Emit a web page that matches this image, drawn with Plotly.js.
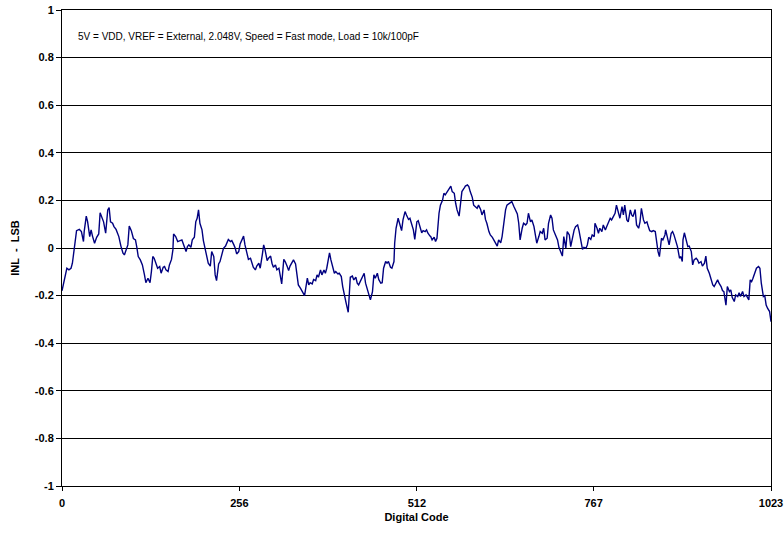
<!DOCTYPE html>
<html>
<head>
<meta charset="utf-8">
<script src="https://cdn.plot.ly/plotly-3.0.1.min.js"></script>
<style>html,body{margin:0;padding:0;background:#fff;}#chart{width:784px;height:539px;}</style>
</head>
<body>
<div id="chart"></div>
<script>
const codes = [0,4,7,10,13,15,18,21,25,28,31,32,35,37,40,42,44,47,50,53,55,57,60,63,66,68,70,73,75,78,80,82,85,88,90,93,95,97,100,103,106,108,110,113,116,119,121,124,127,129,131,133,136,138,141,143,146,148,150,153,155,158,160,161,164,167,
173,175,179,181,183,186,188,191,193,195,197,199,202,204,207,209,211,214,216,219,221,223,226,228,231,233,236,238,240,243,245,248,250,252,255,257,260,262,264,267,269,272,274,276,279,281,284,286,289,291,293,296,298,301,303,305,308,310,313,315,317,320,322,325,327,329,332,334,337,339,341,344,348,350,
354,356,358,361,363,366,368,370,373,375,378,380,382,386,388,391,393,395,398,400,403,405,407,410,413,416,419,421,424,426,428,431,433,436,438,440,443,445,448,450,452,455,457,460,462,464,467,469,471,474,476,479,480,482,485,487,490,492,495,497,500,502,505,507,509,512,514,516,519,521,524,526,528,531,
532,534,537,539,541,544,546,549,551,553,556,558,561,563,566,568,570,573,575,577,580,582,585,587,589,592,594,597,599,601,604,606,609,611,613,616,618,621,623,625,628,630,633,635,637,640,642,645,647,649,652,654,657,659,661,664,666,669,671,673,676,678,681,683,685,688,690,693,695,697,700,702,705,707,709,
712,715,717,720,722,724,727,729,732,734,736,739,741,744,746,748,751,753,756,758,760,763,765,768,769,772,774,776,779,781,784,786,788,791,793,796,798,800,803,805,808,810,812,815,817,820,822,824,827,829,832,834,836,839,841,844,846,848,851,853,856,858,860,862,865,867,870,
871,874,876,879,881,883,886,888,891,893,895,896,898,900,903,905,908,910,912,915,917,919,922,924,927,929,931,934,936,939,941,943,946,948,951,953,955,958,960,963,965,967,970,972,975,977,979,982,984,987,989,991,993,995,997,1000,1002,1005,1007,1009,1012,1014,1016,1018,1021,1023];
const inl = [-0.18,-0.12,-0.085,-0.092,-0.085,-0.064,0,0.073,0.078,0.069,0.027,0.069,0.134,0.11,0.048,0.076,0.05,0.02,0.045,0.059,0.148,0.13,0.11,0.062,0.16,0.17,0.11,0.104,0.09,0.078,0.059,0.048,0.008,-0.022,-0.029,-0.008,0.013,0.092,0.073,0.04,0.034,0.003,-0.036,-0.05,-0.071,-0.113,-0.146,-0.127,-0.146,-0.099,-0.036,-0.043,-0.064,-0.085,-0.078,-0.106,-0.081,-0.078,-0.092,-0.099,-0.071,-0.048,-0.008,0.059,0.048,0.027,
0.034,0.02,-0.015,0.006,0.013,0.003,0.034,0.045,0.11,0.125,0.16,0.104,0.076,0.031,-0.008,-0.036,-0.064,-0.076,-0.015,-0.036,-0.113,-0.137,-0.067,-0.057,-0.015,-0.001,0.008,0.027,0.036,0.027,0.031,0.013,-0.001,-0.025,-0.015,0.017,0.036,0.05,0.013,-0.02,-0.048,-0.043,-0.064,-0.081,-0.092,-0.076,-0.064,-0.085,-0.029,0.013,-0.008,-0.053,-0.043,-0.034,-0.064,-0.081,-0.071,-0.092,-0.085,-0.113,-0.151,-0.048,-0.057,-0.078,-0.095,-0.076,-0.057,-0.05,-0.067,-0.113,-0.155,-0.169,-0.19,-0.2,
-0.127,-0.155,-0.146,-0.151,-0.132,-0.137,-0.113,-0.123,-0.092,-0.113,-0.092,-0.106,-0.085,-0.02,-0.05,-0.092,-0.106,-0.099,-0.109,-0.106,-0.12,-0.162,-0.197,-0.232,-0.27,-0.123,-0.118,-0.134,-0.123,-0.148,-0.155,-0.134,-0.12,-0.106,-0.148,-0.169,-0.19,-0.218,-0.183,-0.113,-0.127,-0.106,-0.132,-0.148,-0.146,-0.085,-0.057,-0.064,-0.057,-0.081,-0.085,-0.057,0.02,0.083,0.125,0.104,0.073,0.118,0.153,0.139,0.12,0.125,0.097,0.076,0.036,0.11,0.115,0.09,0.064,0.073,0.069,0.076,0.062,0.05,
0.048,0.034,0.045,0.027,0.041,0.146,0.18,0.2,0.23,0.223,0.237,0.25,0.26,0.237,0.23,0.188,0.16,0.134,0.188,0.237,0.25,0.26,0.265,0.258,0.237,0.213,0.18,0.174,0.167,0.18,0.162,0.139,0.16,0.12,0.104,0.069,0.055,0.045,0.036,0.027,0.008,0.034,0.022,0.048,0.104,0.16,0.18,0.188,0.19,0.195,0.174,0.162,0.143,0.104,0.034,0.083,0.104,0.097,0.104,0.146,0.11,0.118,0.09,0.055,0.02,0.048,0.069,0.062,0.083,0.034,0.041,0.104,0.139,0.125,0.076,
0.055,0.034,0.003,-0.015,-0.034,0.048,-0.001,0.069,0.055,0.006,0.041,0.076,0.09,0.097,0.073,0.034,-0.006,0.003,-0.001,0.013,0.045,0.036,0.055,0.048,0.104,0.083,0.062,0.083,0.069,0.097,0.076,0.09,0.106,0.125,0.118,0.132,0.146,0.18,0.139,0.125,0.174,0.139,0.18,0.118,0.11,0.16,0.139,0.132,0.162,0.097,0.083,0.11,0.167,0.118,0.104,0.11,0.09,0.073,0.069,0.073,0.069,0.02,-0.015,-0.036,0.041,0.034,0.055,
0.076,0.034,0.013,0.062,0.069,0.055,0.027,0.006,-0.043,-0.036,-0.057,0.034,0.064,0.041,0.006,0.008,-0.015,-0.071,-0.05,-0.043,-0.05,-0.064,-0.057,-0.076,-0.064,-0.034,-0.085,-0.106,-0.127,-0.155,-0.162,-0.148,-0.134,-0.148,-0.162,-0.179,-0.183,-0.24,-0.162,-0.183,-0.176,-0.207,-0.225,-0.197,-0.204,-0.188,-0.204,-0.183,-0.204,-0.197,-0.211,-0.218,-0.134,-0.141,-0.127,-0.099,-0.085,-0.078,-0.085,-0.148,-0.204,-0.2,-0.24,-0.253,-0.267,-0.31];
const xTickVals = [0,256,512,767,1023];
const xTickText = ['0','256','512','767','1023'];
const yTickVals = [-1,-0.8,-0.6,-0.4,-0.2,0,0.2,0.4,0.6,0.8,1];
const yTickText = ['-1','-0.8','-0.6','-0.4','-0.2','0','0.2','0.4','0.6','0.8','1'];
const noteText = '5V = VDD, VREF = External, 2.048V, Speed = Fast mode, Load = 10k/100pF';

const tickFont = {family:'Liberation Sans, Arial, sans-serif', size:11, color:'#000', weight:'bold'};
Plotly.newPlot('chart', [{
  x: codes, y: inl, type:'scatter', mode:'lines',
  line:{color:'#000080', width:1.4}, hoverinfo:'skip'
}], {
  width:784, height:539,
  margin:{l:62, r:13, t:10, b:53},
  paper_bgcolor:'#fff', plot_bgcolor:'#fff',
  showlegend:false,
  font:{family:'Liberation Sans, Arial, sans-serif', color:'#000'},
  xaxis:{
    range:[0,1023], tickvals:xTickVals, ticktext:xTickText,
    ticks:'outside', ticklen:4, tickcolor:'#000', tickwidth:1, ticklabelstandoff:3,
    showgrid:false, zeroline:false, showline:true, linecolor:'#000', linewidth:1, mirror:true,
    tickfont:tickFont,
    title:{text:'<b>Digital Code</b>', font:{family:'Liberation Sans, Arial, sans-serif', size:11, color:'#000'}, standoff:5}
  },
  yaxis:{
    range:[-1,1], tickvals:yTickVals, ticktext:yTickText,
    ticks:'outside', ticklen:5, tickcolor:'#000', tickwidth:1,
    showgrid:true, gridcolor:'#000', gridwidth:1, zeroline:false,
    showline:true, linecolor:'#000', linewidth:1, mirror:true,
    tickfont:tickFont,
    title:{text:'<b>INL\u00a0\u00a0-\u00a0\u00a0LSB</b>', font:{family:'Liberation Sans, Arial, sans-serif', size:11, color:'#000'}, standoff:12}
  },
  annotations:[{
    text: noteText, xref:'paper', yref:'paper', x:0.02, y:0.945, xanchor:'left', yanchor:'middle',
    showarrow:false, font:{family:'Liberation Sans, Arial, sans-serif', size:10, color:'#000'}
  }]
}, {staticPlot:true});
</script>
</body>
</html>
